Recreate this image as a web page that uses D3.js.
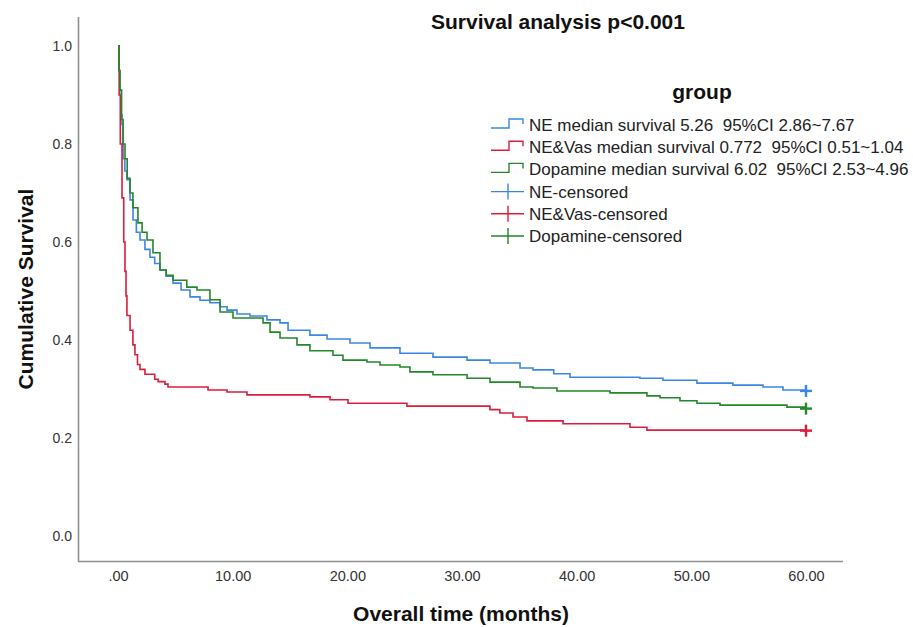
<!DOCTYPE html>
<html>
<head>
<meta charset="utf-8">
<script src="https://cdn.jsdelivr.net/npm/d3@7"></script>
<style>
  html, body { margin: 0; padding: 0; background: #fff; }
  svg { display: block; }
  text { white-space: pre; }
</style>
</head>
<body>
<svg id="chart" width="913" height="627"></svg>
<script>
// ---- Data ----
const groups = ["NE", "NE&Vas", "Dopamine"];
const legendLabels = [
  "NE median survival 5.26  95%CI 2.86~7.67",
  "NE&Vas median survival 0.772  95%CI 0.51~1.04",
  "Dopamine median survival 6.02  95%CI 2.53~4.96",
  "NE-censored",
  "NE&Vas-censored",
  "Dopamine-censored"
];
const xTicks = [0, 10, 20, 30, 40, 50, 60];
const yTicks = [0.0, 0.2, 0.4, 0.6, 0.8, 1.0];

// [time (months), cumulative survival]
const neCurve = [
  [0,1.0],[0.1,0.95],[0.17,0.91],[0.3,0.86],[0.35,0.84],[0.44,0.77],[0.6,0.745],[0.78,0.727],
  [1.05,0.686],[1.31,0.645],[1.6,0.62],[1.92,0.604],[2.35,0.585],[2.79,0.569],[3.2,0.556],
  [3.66,0.543],[4.2,0.53],[4.8,0.516],[5.5,0.502],[6.28,0.488],[7.15,0.481],[8.02,0.476],
  [8.9,0.468],[9.51,0.461],[10.38,0.453],[11.51,0.449],[12.99,0.441],[14.13,0.435],[14.83,0.42],
  [16.74,0.41],[18.23,0.402],[20.23,0.394],[21.98,0.384],[24.59,0.373],[27.47,0.365],[30.44,0.359],
  [32.44,0.353],[35.06,0.343],[36.19,0.339],[38.0,0.331],[39.42,0.324],[45.52,0.322],[47.53,0.318],
  [50.49,0.312],[53.63,0.308],[56.25,0.304],[57.99,0.298],[60,0.298]
];
const neVasCurve = [
  [0,1.0],[0.1,0.9],[0.2,0.8],[0.35,0.69],[0.5,0.6],[0.61,0.54],[0.7,0.49],[0.78,0.45],
  [1.05,0.42],[1.3,0.39],[1.48,0.37],[1.7,0.35],[1.92,0.34],[2.35,0.33],[3.2,0.32],[3.5,0.315],
  [4.1,0.31],[4.36,0.304],[7.85,0.298],[9.51,0.294],[11.25,0.288],[16.74,0.284],[18.49,0.278],
  [20.06,0.271],[25.2,0.265],[32.44,0.258],[33.3,0.251],[34.45,0.243],[35.67,0.235],[38.81,0.229],
  [44.65,0.222],[46.13,0.216],[60,0.216]
];
const dopamineCurve = [
  [0,1.0],[0.1,0.95],[0.17,0.91],[0.3,0.85],[0.44,0.8],[0.61,0.77],[0.8,0.73],[1.05,0.7],
  [1.3,0.67],[1.74,0.639],[2.1,0.62],[2.53,0.604],[3.05,0.578],[3.66,0.543],[4.2,0.532],
  [4.8,0.522],[6.0,0.508],[6.89,0.502],[8.02,0.482],[8.9,0.457],[10.03,0.445],[12.65,0.435],
  [13.26,0.416],[14.13,0.404],[15.61,0.39],[16.74,0.378],[18.75,0.369],[19.62,0.359],[21.71,0.355],
  [22.85,0.349],[24.59,0.345],[25.46,0.335],[27.47,0.329],[30.44,0.322],[32.44,0.314],[35.06,0.304],
  [36.19,0.302],[38.28,0.296],[42.91,0.292],[46.13,0.286],[47.27,0.282],[49.01,0.276],[50.49,0.271],
  [52.5,0.267],[58.34,0.263],[60,0.263]
];
// censored points [time, survival]
const neCensored = [[60, 0.296]];
const neVasCensored = [[60, 0.215]];
const dopamineCensored = [[60, 0.26]];

// ---- Drawing ----
const colors = ["#3b86e3", "#dc1c3c", "#25862a"];
const curves = [neCurve, neVasCurve, dopamineCurve];
const censored = [neCensored, neVasCensored, dopamineCensored];

const svg = d3.select("#chart");
const font = "Arial, 'Liberation Sans', sans-serif";

const x = d3.scaleLinear().domain([0, 60]).range([118, 806]);
const y = d3.scaleLinear().domain([0, 1]).range([536, 46]);

// axis lines
svg.append("line").attr("x1", 78.5).attr("x2", 78.5).attr("y1", 17).attr("y2", 561.5)
  .attr("stroke", "#8f8f8f").attr("stroke-width", 1.6);
svg.append("line").attr("x1", 78).attr("x2", 843).attr("y1", 561.5).attr("y2", 561.5)
  .attr("stroke", "#8f8f8f").attr("stroke-width", 1.6);

// y axis (labels only)
const yAxis = d3.axisLeft(y).tickValues(yTicks).tickSize(0).tickPadding(0)
  .tickFormat(d => d3.format(".1f")(d));
const gy = svg.append("g").attr("transform", "translate(72,0)").call(yAxis);
gy.select(".domain").remove();
gy.selectAll("text").attr("font-family", font).attr("font-size", 14).attr("fill", "#333");

// x axis (labels only)
const xAxis = d3.axisBottom(x).tickValues(xTicks).tickSize(0).tickPadding(0)
  .tickFormat(d => d === 0 ? ".00" : d3.format(".2f")(d));
const gx = svg.append("g").attr("transform", "translate(0,571)").call(xAxis);
gx.select(".domain").remove();
gx.selectAll("text").attr("font-family", font).attr("font-size", 14.5).attr("fill", "#333");

// curves
const line = d3.line().x(d => x(d[0])).y(d => y(d[1])).curve(d3.curveStepAfter);
curves.forEach((c, i) => {
  svg.append("path").datum(c).attr("d", line)
    .attr("fill", "none").attr("stroke", colors[i]).attr("stroke-width", 1.6)
    .attr("stroke-linejoin", "miter");
});

// censored marks
censored.forEach((pts, i) => {
  const g = svg.append("g");
  pts.forEach(p => {
    const cx = x(p[0]), cy = y(p[1]);
    g.append("line").attr("x1", cx - 6).attr("x2", cx + 6).attr("y1", cy).attr("y2", cy)
      .attr("stroke", colors[i]).attr("stroke-width", 2.4);
    g.append("line").attr("x1", cx).attr("x2", cx).attr("y1", cy - 6).attr("y2", cy + 6)
      .attr("stroke", colors[i]).attr("stroke-width", 2.4);
  });
});

// title
svg.append("text").attr("x", 558).attr("y", 29).attr("text-anchor", "middle")
  .attr("font-family", font).attr("font-weight", "bold").attr("font-size", 21)
  .attr("fill", "#111").text("Survival analysis p<0.001");

// axis titles
svg.append("text").attr("x", 461).attr("y", 621).attr("text-anchor", "middle")
  .attr("font-family", font).attr("font-weight", "bold").attr("font-size", 21)
  .attr("fill", "#111").text("Overall time (months)");
svg.append("text").attr("transform", "translate(33,289) rotate(-90)").attr("text-anchor", "middle")
  .attr("font-family", font).attr("font-weight", "bold").attr("font-size", 21)
  .attr("fill", "#111").text("Cumulative Survival");

// legend
svg.append("text").attr("x", 702).attr("y", 99).attr("text-anchor", "middle")
  .attr("font-family", font).attr("font-weight", "bold").attr("font-size", 21)
  .attr("fill", "#111").text("group");

const lg = svg.append("g");
const rowY = d3.range(6).map(i => 125 + i * 22.2);
legendLabels.forEach((lab, i) => {
  const cy = rowY[i];
  const col = colors[i % 3];
  if (i < 3) {
    const path = d3.path();
    path.moveTo(491, cy + 3); path.lineTo(509, cy + 3); path.lineTo(509, cy - 6); path.lineTo(523, cy - 6); path.lineTo(523, cy - 1);
    lg.append("path").attr("d", path.toString()).attr("fill", "none")
      .attr("stroke", col).attr("stroke-width", 1.4);
  } else {
    lg.append("line").attr("x1", 491).attr("x2", 524).attr("y1", cy).attr("y2", cy)
      .attr("stroke", col).attr("stroke-width", 1.4);
    lg.append("line").attr("x1", 508).attr("x2", 508).attr("y1", cy - 8).attr("y2", cy + 8)
      .attr("stroke", col).attr("stroke-width", 1.4);
  }
  lg.append("text").attr("x", 529).attr("y", cy + 6)
    .attr("font-family", font).attr("font-size", 17).attr("fill", "#222").text(lab);
});
</script>
</body>
</html>
